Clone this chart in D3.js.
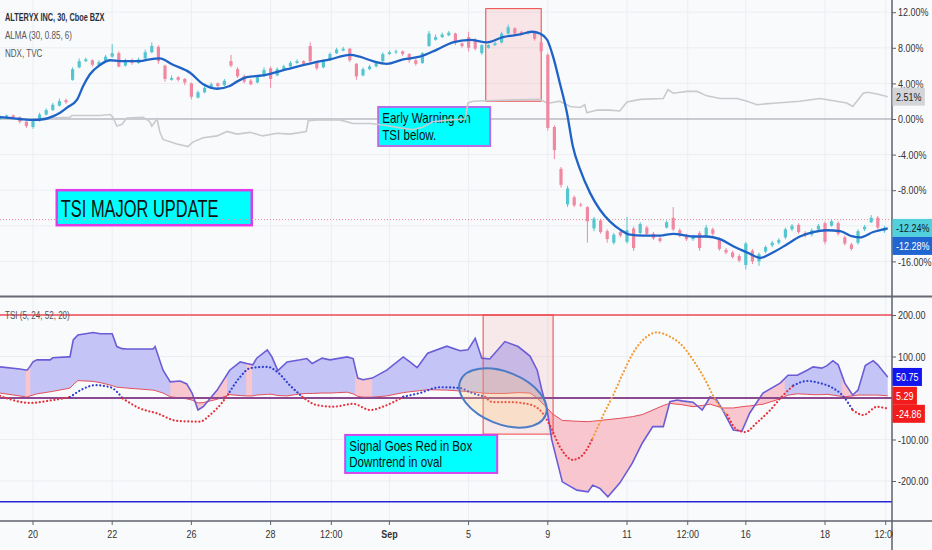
<!DOCTYPE html>
<html>
<head>
<meta charset="utf-8">
<script src="https://cdn.jsdelivr.net/npm/d3@7"></script>
<style>
  body { margin: 0; background: #f9fafc; }
  svg { display: block; font-family: "Liberation Sans", Arial, sans-serif; }
</style>
</head>
<body>
<svg id="chart" width="932" height="550"></svg>
<script>
// ---------- data ----------
// candles, one every 1/6 trading day, % change (t = candle index)
const candleOpen = [0.0,0.1,0.4,0.2,-0.3,-0.9,-0.2,0.5,1.0,1.5,2.1,4.4,5.8,6.5,6.6,6.0,6.5,7.0,7.4,6.0,6.6,6.3,6.8,7.5,8.1,6.0,4.4,4.7,4.5,4.0,2.4,3.0,3.5,4.0,3.8,6.5,5.6,4.8,4.3,4.1,4.8,5.7,4.9,5.6,5.9,6.3,6.5,8.2,6.4,5.8,6.6,7.4,7.7,7.9,6.2,4.9,5.6,5.9,6.5,7.3,7.5,7.6,7.3,6.6,6.3,8.2,8.9,9.2,9.4,9.6,8.5,9.2,8.9,7.4,8.0,8.3,8.6,9.6,10.2,9.8,9.6,9.8,8.6,7.2,-0.9,-5.6,-9.6,-8.8,-9.6,-9.9,-12.3,-11.4,-12.6,-13.9,-12.7,-13.8,-12.3,-12.8,-12.2,-12.9,-13.4,-12.2,-11.1,-12.5,-13.1,-13.5,-12.8,-13.2,-12.4,-13.5,-14.7,-15.0,-15.4,-16.4,-14.8,-16.0,-14.9,-14.2,-13.9,-13.3,-12.4,-11.9,-12.8,-13.0,-12.4,-11.7,-12.0,-11.7,-13.3,-14.1,-13.9,-12.4,-11.6,-11.1,-12.6];
const candleHigh = [0.4,0.5,0.5,0.3,-0.2,0.0,0.7,1.2,1.8,2.3,2.3,5.8,6.8,6.9,6.7,6.6,7.2,8.4,7.6,6.8,6.8,6.9,7.8,8.6,8.3,6.1,4.9,4.8,4.6,4.1,3.2,3.7,4.1,4.1,4.5,7.2,5.8,5.0,4.5,4.9,5.8,5.9,5.8,6.1,6.5,6.7,6.6,8.6,6.5,6.7,7.5,8.0,8.1,8.0,6.3,5.8,6.1,6.5,7.5,7.7,7.8,7.7,7.4,6.8,7.5,9.9,9.5,9.7,9.9,9.7,8.6,9.8,9.1,8.4,8.4,8.7,9.8,10.6,10.3,9.9,9.9,9.9,8.8,7.4,-0.7,-5.4,-7.5,-8.6,-9.4,-9.8,-11.0,-11.2,-12.4,-12.8,-12.5,-11.0,-12.1,-11.6,-12.0,-12.7,-13.2,-11.4,-9.9,-12.3,-12.9,-13.0,-12.6,-11.9,-12.2,-13.3,-14.5,-14.8,-15.2,-13.8,-14.6,-15.0,-14.2,-13.7,-13.4,-12.2,-11.8,-11.7,-12.6,-12.3,-11.8,-11.5,-11.3,-11.5,-13.1,-13.9,-12.4,-11.9,-10.8,-10.9,-12.0];
const candleLow = [-0.1,0.0,0.0,-0.5,-1.0,-1.1,-0.3,0.4,0.9,1.4,1.7,4.3,5.7,6.4,5.9,5.8,6.4,6.9,5.8,5.9,6.1,6.2,6.7,7.4,6.2,4.2,4.3,4.2,3.8,2.2,2.3,2.9,3.4,3.5,3.7,5.8,4.6,4.0,3.8,4.0,4.7,3.5,4.8,5.5,5.8,6.2,6.0,6.3,5.5,5.7,6.5,7.3,7.6,6.4,4.4,4.8,5.5,5.8,6.4,7.2,7.3,7.1,6.3,6.0,6.2,8.1,8.8,9.1,9.3,8.3,8.0,7.6,7.7,7.2,7.9,8.2,8.5,9.5,9.4,9.4,9.5,8.8,7.4,-1.3,-4.5,-7.7,-9.9,-9.9,-9.9,-13.9,-12.6,-12.9,-13.9,-14.1,-13.3,-14.0,-14.8,-13.0,-13.1,-13.6,-13.9,-12.3,-12.6,-13.3,-13.7,-13.7,-14.8,-13.4,-13.1,-14.8,-15.2,-15.7,-16.1,-16.9,-16.3,-16.5,-15.1,-14.4,-14.1,-13.5,-12.6,-12.9,-13.3,-13.2,-12.5,-14.1,-12.1,-13.1,-14.2,-14.8,-14.1,-12.6,-11.7,-12.4,-12.8];
const candleClose = [0.2,0.4,0.2,-0.3,-0.8,-0.2,0.5,1.0,1.6,2.0,1.9,5.6,6.5,6.7,6.1,6.4,7.0,7.4,5.9,6.6,6.3,6.7,7.5,8.2,6.5,4.5,4.6,4.4,4.1,2.5,3.0,3.5,3.9,3.7,4.3,6.0,4.8,4.2,3.9,4.7,5.5,4.5,5.6,5.9,6.3,6.5,6.2,6.5,5.7,6.5,7.3,7.8,7.9,6.6,4.8,5.6,5.9,6.3,7.3,7.5,7.6,7.3,6.6,6.2,7.4,9.6,9.2,9.5,9.7,8.6,8.2,8.0,7.9,8.3,8.3,8.5,9.6,10.3,9.6,9.6,9.8,9.0,7.6,-1.0,-3.5,-7.4,-7.8,-9.7,-9.7,-11.5,-11.2,-12.7,-13.5,-13.0,-13.1,-12.5,-14.5,-11.8,-12.9,-13.4,-13.7,-11.6,-12.4,-13.1,-13.5,-13.2,-14.5,-12.2,-12.9,-14.6,-15.0,-15.5,-15.9,-14.0,-16.0,-15.2,-14.4,-13.9,-13.6,-12.4,-12.0,-12.7,-13.1,-12.5,-12.0,-13.8,-11.5,-12.9,-14.0,-14.6,-12.6,-12.1,-11.1,-12.2,-12.24];

// ALMA (30, 0.85, 6)
const almaT = [0,3.0,5.0,6.8,8.0,9.1,10.2,11.7,12.6,13.6,15.2,16.7,18.2,21.2,22.7,24.2,26.2,28.8,30.8,32.9,34.8,35.9,37.4,39.8,43.5,47.4,50.0,53.0,54.5,56.5,58.6,61.1,63.6,66.2,68.6,71.2,73.8,76.2,78.8,80.6,81.8,82.9,83.8,84.8,85.9,86.8,87.9,89.4,90.9,92.4,93.9,95.5,97.4,100.0,102.0,105.0,107.1,109.1,111.1,113.2,115.2,117.1,119.2,121.2,123.2,125.3,127.3,129.2,130.3,132.3,134.5];
const almaVal = [0.2,0.0,-0.1,0.0,0.3,0.7,1.3,2.2,3.7,5.0,6.1,6.6,6.5,6.5,6.7,6.8,6.1,5.2,3.9,3.4,3.7,4.2,4.7,4.9,5.6,6.3,6.7,7.2,7.0,6.5,6.2,6.7,7.0,7.8,8.6,8.9,8.6,9.2,9.5,9.8,9.6,8.9,7.0,4.1,0.7,-3.1,-5.7,-8.3,-10.2,-11.5,-12.4,-13.0,-13.1,-13.1,-12.9,-13.2,-13.2,-13.5,-14.3,-15.0,-15.6,-15.0,-14.1,-13.2,-12.7,-12.5,-12.6,-13.2,-13.3,-12.7,-12.28];

// NDX comparison
const ndxT = [0,5.0,7.6,10.6,10.9,15.2,16.7,17.1,17.7,18.5,19.2,21.7,22.7,23.0,23.8,24.2,24.7,26.8,28.5,29.2,30.8,32.9,34.4,35.9,37.9,39.8,42.0,43.9,46.4,46.7,48.0,51.5,53.5,56.1,58.3,60.6,62.6,64.1,65.6,68.2,70.5,70.9,71.7,75.8,81.8,82.9,83.3,84.8,86.4,87.9,88.6,88.9,90.5,92.4,93.9,95.0,97.0,100.5,101.2,102.0,104.1,105.6,107.1,109.1,111.7,113.2,114.7,115.9,117.7,121.2,124.2,125.8,128.3,129.2,130.8,131.4,132.9,134.5];
const ndxVal = [0.0,0.0,0.1,0.2,0.4,0.4,0.5,0.2,-0.8,-0.6,0.1,0.2,-0.3,-0.8,0.0,-1.4,-2.3,-2.8,-3.1,-2.6,-2.1,-1.9,-1.4,-1.7,-1.5,-1.9,-1.6,-1.7,-1.4,-0.2,-0.1,-0.1,-0.5,-0.5,-0.7,-1.0,-1.2,-0.9,-0.3,-0.1,0.0,1.8,2.0,2.1,2.2,1.8,1.8,2.0,1.4,1.3,1.6,0.7,1.0,1.0,0.9,1.9,2.2,2.3,3.3,2.9,3.1,3.1,2.6,2.3,2.3,2.0,1.6,1.7,1.8,2.0,2.3,2.1,1.8,1.4,2.9,3.0,2.8,2.51];
const sessionLine = -11.3;

// TSI (5, 24, 52, 20)
const tsiT = [0,3.0,4.1,4.5,5.0,5.6,7.6,8.0,10.3,10.6,11.1,11.8,14.1,15.2,17.0,17.7,18.5,19.2,23.2,23.5,24.7,25.8,27.3,28.3,29.1,30.0,30.8,32.9,34.8,36.4,37.4,38.3,38.9,40.5,41.2,42.1,43.5,45.5,46.5,47.3,48.8,50.0,52.6,53.5,54.2,55.0,56.4,58.6,61.1,62.1,63.2,64.8,67.7,69.7,70.9,72.0,73.0,74.2,76.5,78.5,80.3,81.4,82.1,82.9,83.6,85.2,87.4,89.1,89.8,90.9,92.1,93.9,95.8,97.3,98.9,100.5,101.5,102.6,103.3,105.0,106.4,107.6,108.6,109.5,111.1,112.4,113.6,115.6,118.2,119.4,120.8,122.3,123.2,124.5,125.3,126.2,127.0,128.0,129.2,130.0,131.1,132.3,133.0,134.5];
const tsiVal = [75,70,67,75,87,92,92,97,99,99,140,152,158,155,155,124,119,118,118,124,67,39,41,34,12,-29,-21,19,67,87,83,80,96,116,99,66,87,92,95,83,96,92,99,95,48,44,48,67,99,87,73,108,125,114,116,144,96,94,136,124,101,67,19,-29,-101,-202,-222,-226,-210,-218,-238,-205,-157,-109,-69,-69,-9,-5,-7,-10,-29,3,-5,-29,-77,-80,-36,12,36,55,55,67,75,72,78,90,80,36,7,19,78,90,80,50.75];
const tsiSig = [12,5,2,5,7,10,15,16,23,24,32,42,40,37,30,26,25,24,19,18,12,3,0,-2,-5,-12,-11,-3,8,6,5,5,7,9,9,6,5,10,11,11,12,12,14,10,4,2,2,5,13,15,17,20,19,17,15,14,12,11,11,13,12,0,-12,-24,-37,-54,-56,-57,-56,-54,-52,-49,-45,-40,-29,-18,-13,-15,-16,-21,-18,-15,-20,-24,-24,-21,-19,-15,-2,7,10,9,8,8,9,7,5,3,5,7,7,7,7,5.29];
// spans where the TSI fill turns red
const redZones = [[3.9,4.6],[25.8,34.4],[37.3,38.2],[53.8,56.4],[82.6,118.9],[127.6,130.0]];

// dotted trend line
const dotT = [0,1.5,4.5,7.6,10.6,12.6,14.4,16.7,18.6,21.2,23.8,26.8,30.3,31.8,33.6,34.8,36.4,37.9,40.5,42.0,43.9,45.8,48.0,50.5,53.5,56.1,58.0,61.1,63.6,66.7,69.7,71.2,73.5,74.7,77.3,79.8,81.8,83.3,84.8,86.8,88.3,89.8,91.4,92.9,94.4,95.9,98.0,99.5,101.5,103.0,105.0,107.1,108.0,110.2,111.7,112.9,114.7,116.7,118.5,120.2,122.3,124.2,126.2,127.6,129.2,130.8,132.9,134.5];
const dotVal = [5,-3,-12,-6,2,22,31,26,-1,-25,-37,-55,-57,-41,-12,15,51,72,75,63,31,3,-17,-21,-14,-29,-21,3,12,26,24,14,3,-10,-10,-14,-29,-65,-117,-149,-137,-97,-41,7,60,108,148,158,148,132,92,36,7,-41,-77,-82,-59,-29,4,30,41,36,24,7,-29,-41,-21,-24.86];
const dotColor = "rrrrbbbbrrrrrrrbbbbbbrrrrrrbbbbbrrrrrrrrroooooooooooorrrrrrbbbbbrrrrr".split("");

// time axis
const tickT = [5,17,29,41,50.2,59,71,83,95,104.2,113,125,134.2];
const tickLabels = ["20","22","26","28","12:00","Sep","5","9","11","12:00","16","18","12:00"];
const topTicks = [12,8,4,0,-4,-8,-16];
const topGrid = [12,8,4,-4,-8,-12,-16];
const botTicks = [200,100,-100,-200];
const tsiLevels = { upper: 200, zero: 0, lower: -250 };

// ---------- layout ----------
const W = 932, H = 550, plotR = 892;
const SX = 0.7;   // horizontal text squeeze
const AX = 0.78;  // squeeze for scale labels
const svg = d3.select("#chart");

const x = d3.scaleLinear().domain([0, 135.15]).range([0, plotR]);
const yTop = d3.scaleLinear().domain([-20, 13.37]).range([297, 0]);
const yBot = d3.scaleLinear().domain([-296.4, 241]).range([521, 298]);

const defs = svg.append("defs");
defs.append("clipPath").attr("id", "clipTop").append("rect")
  .attr("x", 0).attr("y", 0).attr("width", plotR).attr("height", 296);
defs.append("clipPath").attr("id", "clipBot").append("rect")
  .attr("x", 0).attr("y", 297).attr("width", plotR).attr("height", 224);
defs.append("clipPath").attr("id", "clipAxis").append("rect")
  .attr("x", 0).attr("y", 521).attr("width", plotR + 1).attr("height", 29);
defs.append("clipPath").attr("id", "clipRed").selectAll("rect")
  .data(redZones).enter().append("rect")
  .attr("x", d => x(d[0])).attr("width", d => x(d[1]) - x(d[0]))
  .attr("y", 297).attr("height", 224);

function txt(g, px, py, s, size, color, weight, sx) {
  return g.append("text")
    .attr("transform", `translate(${px},${py}) scale(${sx || SX},1)`)
    .attr("font-size", size).attr("fill", color)
    .attr("font-weight", weight || 400).text(s);
}

// ---------- grid ----------
const grid = svg.append("g").attr("stroke", "#eceef2").attr("stroke-width", 1);
grid.selectAll(".vg").data(tickT).enter().append("line")
  .attr("x1", d => x(d)).attr("x2", d => x(d)).attr("y1", 0).attr("y2", 521);
grid.selectAll(".tg").data(topGrid).enter().append("line")
  .attr("x1", 0).attr("x2", plotR).attr("y1", d => yTop(d)).attr("y2", d => yTop(d));
grid.selectAll(".bg").data(botTicks).enter().append("line")
  .attr("x1", 0).attr("x2", plotR).attr("y1", d => yBot(d)).attr("y2", d => yBot(d));

// ---------- top pane ----------
const topG = svg.append("g").attr("clip-path", "url(#clipTop)");
topG.append("line").attr("x1", 0).attr("x2", plotR)
  .attr("y1", yTop(0)).attr("y2", yTop(0)).attr("stroke", "#9a9ca5").attr("stroke-width", 1);

topG.append("rect")
  .attr("x", x(73.6)).attr("y", yTop(12.4))
  .attr("width", x(82.0) - x(73.6)).attr("height", yTop(2.0) - yTop(12.4))
  .attr("fill", "rgba(240,80,80,0.12)").attr("stroke", "#ee4545").attr("stroke-width", 1);

function noteBox(g, px, py, w, h, lines, size, stroke, sw, base, gap, sx) {
  g.append("rect").attr("x", px).attr("y", py).attr("width", w).attr("height", h)
    .attr("fill", "#00ffff").attr("stroke", stroke).attr("stroke-width", sw);
  lines.forEach((s, i) => txt(g, px + 4, py + base + i * gap, s, size, "#111", 400, sx));
}
noteBox(topG, x(8.6), yTop(-8.0), 195, 35, ["TSI MAJOR UPDATE"], 23.5, "#e23ae6", 2.5, 27, 0, 0.7);
noteBox(topG, x(57.3), yTop(1.35), 112, 39, ["Early Warning on", "TSI below."], 14.5, "#b46ee8", 2, 16.5, 16.5, 0.8);

topG.append("path")
  .attr("d", d3.line().x((d, i) => x(ndxT[i])).y(d => yTop(d))(ndxVal))
  .attr("fill", "none").attr("stroke", "#c9cacd").attr("stroke-width", 1.6);

topG.append("line").attr("x1", 0).attr("x2", plotR)
  .attr("y1", yTop(sessionLine)).attr("y2", yTop(sessionLine))
  .attr("stroke", "#f08a9a").attr("stroke-width", 1).attr("stroke-dasharray", "1,2");

const candles = topG.append("g").selectAll("g").data(candleClose).enter().append("g");
const col = (d, i) => d >= candleOpen[i] ? "#55c5d0" : "#ef88a0";
candles.append("line")
  .attr("x1", (d, i) => x(i)).attr("x2", (d, i) => x(i))
  .attr("y1", (d, i) => yTop(candleHigh[i])).attr("y2", (d, i) => yTop(candleLow[i]))
  .attr("stroke", col).attr("stroke-width", 1);
candles.append("rect")
  .attr("x", (d, i) => x(i) - 1.6).attr("width", 3.2)
  .attr("y", (d, i) => yTop(Math.max(d, candleOpen[i])))
  .attr("height", (d, i) => Math.max(1, Math.abs(yTop(d) - yTop(candleOpen[i]))))
  .attr("fill", col);

topG.append("path")
  .attr("d", d3.line().x((d, i) => x(almaT[i])).y(d => yTop(d)).curve(d3.curveMonotoneX)(almaVal))
  .attr("fill", "none").attr("stroke", "#1f63c6").attr("stroke-width", 2.3);

txt(svg, 5, 21, "ALTERYX INC, 30, Cboe BZX", 10.5, "#2a2e39", 700);
txt(svg, 5, 39, "ALMA (30, 0.85, 6)", 11.5, "#555");
txt(svg, 5, 57, "NDX, TVC", 11.5, "#555");

// ---------- bottom pane ----------
const botG = svg.append("g").attr("clip-path", "url(#clipBot)");
const fillArea = d3.area().x((d, i) => x(tsiT[i])).y0((d, i) => yBot(tsiSig[i])).y1(d => yBot(d));
botG.append("path").attr("d", fillArea(tsiVal)).attr("fill", "#c4c4f6");
botG.append("g").attr("clip-path", "url(#clipRed)")
  .append("path").attr("d", fillArea(tsiVal)).attr("fill", "#f8c6ce");

botG.append("rect")
  .attr("x", x(73.2)).attr("y", yBot(200))
  .attr("width", x(83.8) - x(73.2)).attr("height", yBot(-87) - yBot(200))
  .attr("fill", "rgba(240,80,80,0.1)").attr("stroke", "#ee4545").attr("stroke-width", 1);

botG.append("path")
  .attr("d", d3.line().x((d, i) => x(tsiT[i])).y(d => yBot(d))(tsiSig))
  .attr("fill", "none").attr("stroke", "#e4505c").attr("stroke-width", 1);
botG.append("path")
  .attr("d", d3.line().x((d, i) => x(tsiT[i])).y(d => yBot(d))(tsiVal))
  .attr("fill", "none").attr("stroke", "#6a5cd6").attr("stroke-width", 1.6);

[[tsiLevels.upper, "#ef4a52", 1.6], [tsiLevels.lower, "#2626d6", 1.6], [tsiLevels.zero, "#8b4a8f", 2]]
  .forEach(([v, c, w]) => botG.append("line").attr("x1", 0).attr("x2", plotR)
    .attr("y1", yBot(v)).attr("y2", yBot(v)).attr("stroke", c).attr("stroke-width", w));

// dotted line, split into colour runs
const dotColors = { r: "#e8323c", b: "#2f3fd0", o: "#f39a35" };
const runs = [];
dotColor.forEach((c, i) => {
  if (i === dotT.length - 1) return;
  if (!runs.length || runs[runs.length - 1].c !== c) runs.push({ c: c, idx: [i] });
  runs[runs.length - 1].idx.push(i + 1);
});
const dotLine = d3.line().x(i => x(dotT[i])).y(i => yBot(dotVal[i])).curve(d3.curveMonotoneX);
runs.forEach(r => botG.append("path").attr("d", dotLine(r.idx))
  .attr("fill", "none").attr("stroke", dotColors[r.c]).attr("stroke-width", 2.2)
  .attr("stroke-linecap", "round").attr("stroke-dasharray", "0.1,3.6"));

botG.append("ellipse")
  .attr("transform", `translate(${x(76.2)},${yBot(0)}) rotate(22)`)
  .attr("rx", 46).attr("ry", 26)
  .attr("fill", "rgba(255,200,120,0.28)").attr("stroke", "#4d7cc6").attr("stroke-width", 2);

noteBox(svg, x(52.3), yBot(-89), 152, 38, ["Signal Goes Red in Box", "Downtrend in oval"], 14.5, "#d646ee", 2, 16, 16.5, 0.8);
txt(svg, 5, 319, "TSI (5, 24, 52, 20)", 11.5, "#555");

// ---------- frame & axes ----------
svg.append("line").attr("x1", 0).attr("x2", W).attr("y1", 296.5).attr("y2", 296.5)
  .attr("stroke", "#686b76").attr("stroke-width", 2);
svg.append("line").attr("x1", 0).attr("x2", W).attr("y1", 521).attr("y2", 521)
  .attr("stroke", "#5d606b").attr("stroke-width", 1.5);
svg.append("line").attr("x1", plotR).attr("x2", plotR).attr("y1", 0).attr("y2", H)
  .attr("stroke", "#5d606b").attr("stroke-width", 1.5);

function styleAxis(g, dx) {
  g.select(".domain").remove();
  g.attr("font-family", null).attr("font-size", 11.5);
  g.selectAll(".tick line").attr("stroke", "#5d606b");
  g.selectAll(".tick text").attr("fill", "#333")
    .attr("transform", `translate(${dx},0) scale(${AX},1)`).attr("x", 0);
}
const xAxis = svg.append("g").attr("clip-path", "url(#clipAxis)")
  .call(d3.axisBottom(x).tickValues(tickT).tickSize(4).tickFormat((d, i) => tickLabels[i]));
styleAxis(xAxis, 0);
xAxis.selectAll(".tick text").attr("y", 9).attr("font-weight", (d, i) => tickLabels[i] === "Sep" ? 700 : 400);
xAxis.selectAll(".tick").attr("transform", d => `translate(${x(d)},521)`);

const yAxisTop = svg.append("g").attr("transform", `translate(${plotR},0)`)
  .call(d3.axisRight(yTop).tickValues(topTicks).tickSize(4).tickFormat(d => d.toFixed(2) + "%"));
styleAxis(yAxisTop, 6);
const yAxisBot = svg.append("g").attr("transform", `translate(${plotR},0)`)
  .call(d3.axisRight(yBot).tickValues(botTicks).tickSize(4).tickFormat(d => d.toFixed(2)));
styleAxis(yAxisBot, 6);

// last-value labels on the price scale
function valueLabels(items, yScale) {
  let prevBottom = -Infinity;
  items.forEach(it => {
    const h = 18;
    let y0 = yScale(it.value) - h / 2;
    if (y0 < prevBottom) y0 = prevBottom;
    prevBottom = y0 + h;
    const g = svg.append("g");
    const r = g.append("rect").attr("x", plotR + 0.5).attr("y", y0).attr("height", h).attr("fill", it.bg);
    const t = txt(g, plotR + 4, y0 + h / 2, it.text, 11.5, it.fg, 400, AX).attr("dy", "0.35em");
    const w = it.full ? W - plotR : t.node().getComputedTextLength() * AX + 7;
    r.attr("width", w);
  });
}
const last = a => a[a.length - 1];
valueLabels([{ value: last(ndxVal), text: last(ndxVal).toFixed(2) + "%", bg: "#d4d5d9", fg: "#222" }], yTop);
valueLabels([
  { value: last(candleClose), text: last(candleClose).toFixed(2) + "%", bg: "#52d0dc", fg: "#131722", full: true },
  { value: last(almaVal), text: last(almaVal).toFixed(2) + "%", bg: "#1f66d2", fg: "#fff", full: true }
], yTop);
valueLabels([
  { value: last(tsiVal), text: last(tsiVal).toFixed(2), bg: "#1414ee", fg: "#fff" },
  { value: last(tsiSig), text: last(tsiSig).toFixed(2), bg: "#f21c1c", fg: "#fff" },
  { value: last(dotVal), text: last(dotVal).toFixed(2), bg: "#f21c1c", fg: "#fff" }
], yBot);
</script>
</body>
</html>
